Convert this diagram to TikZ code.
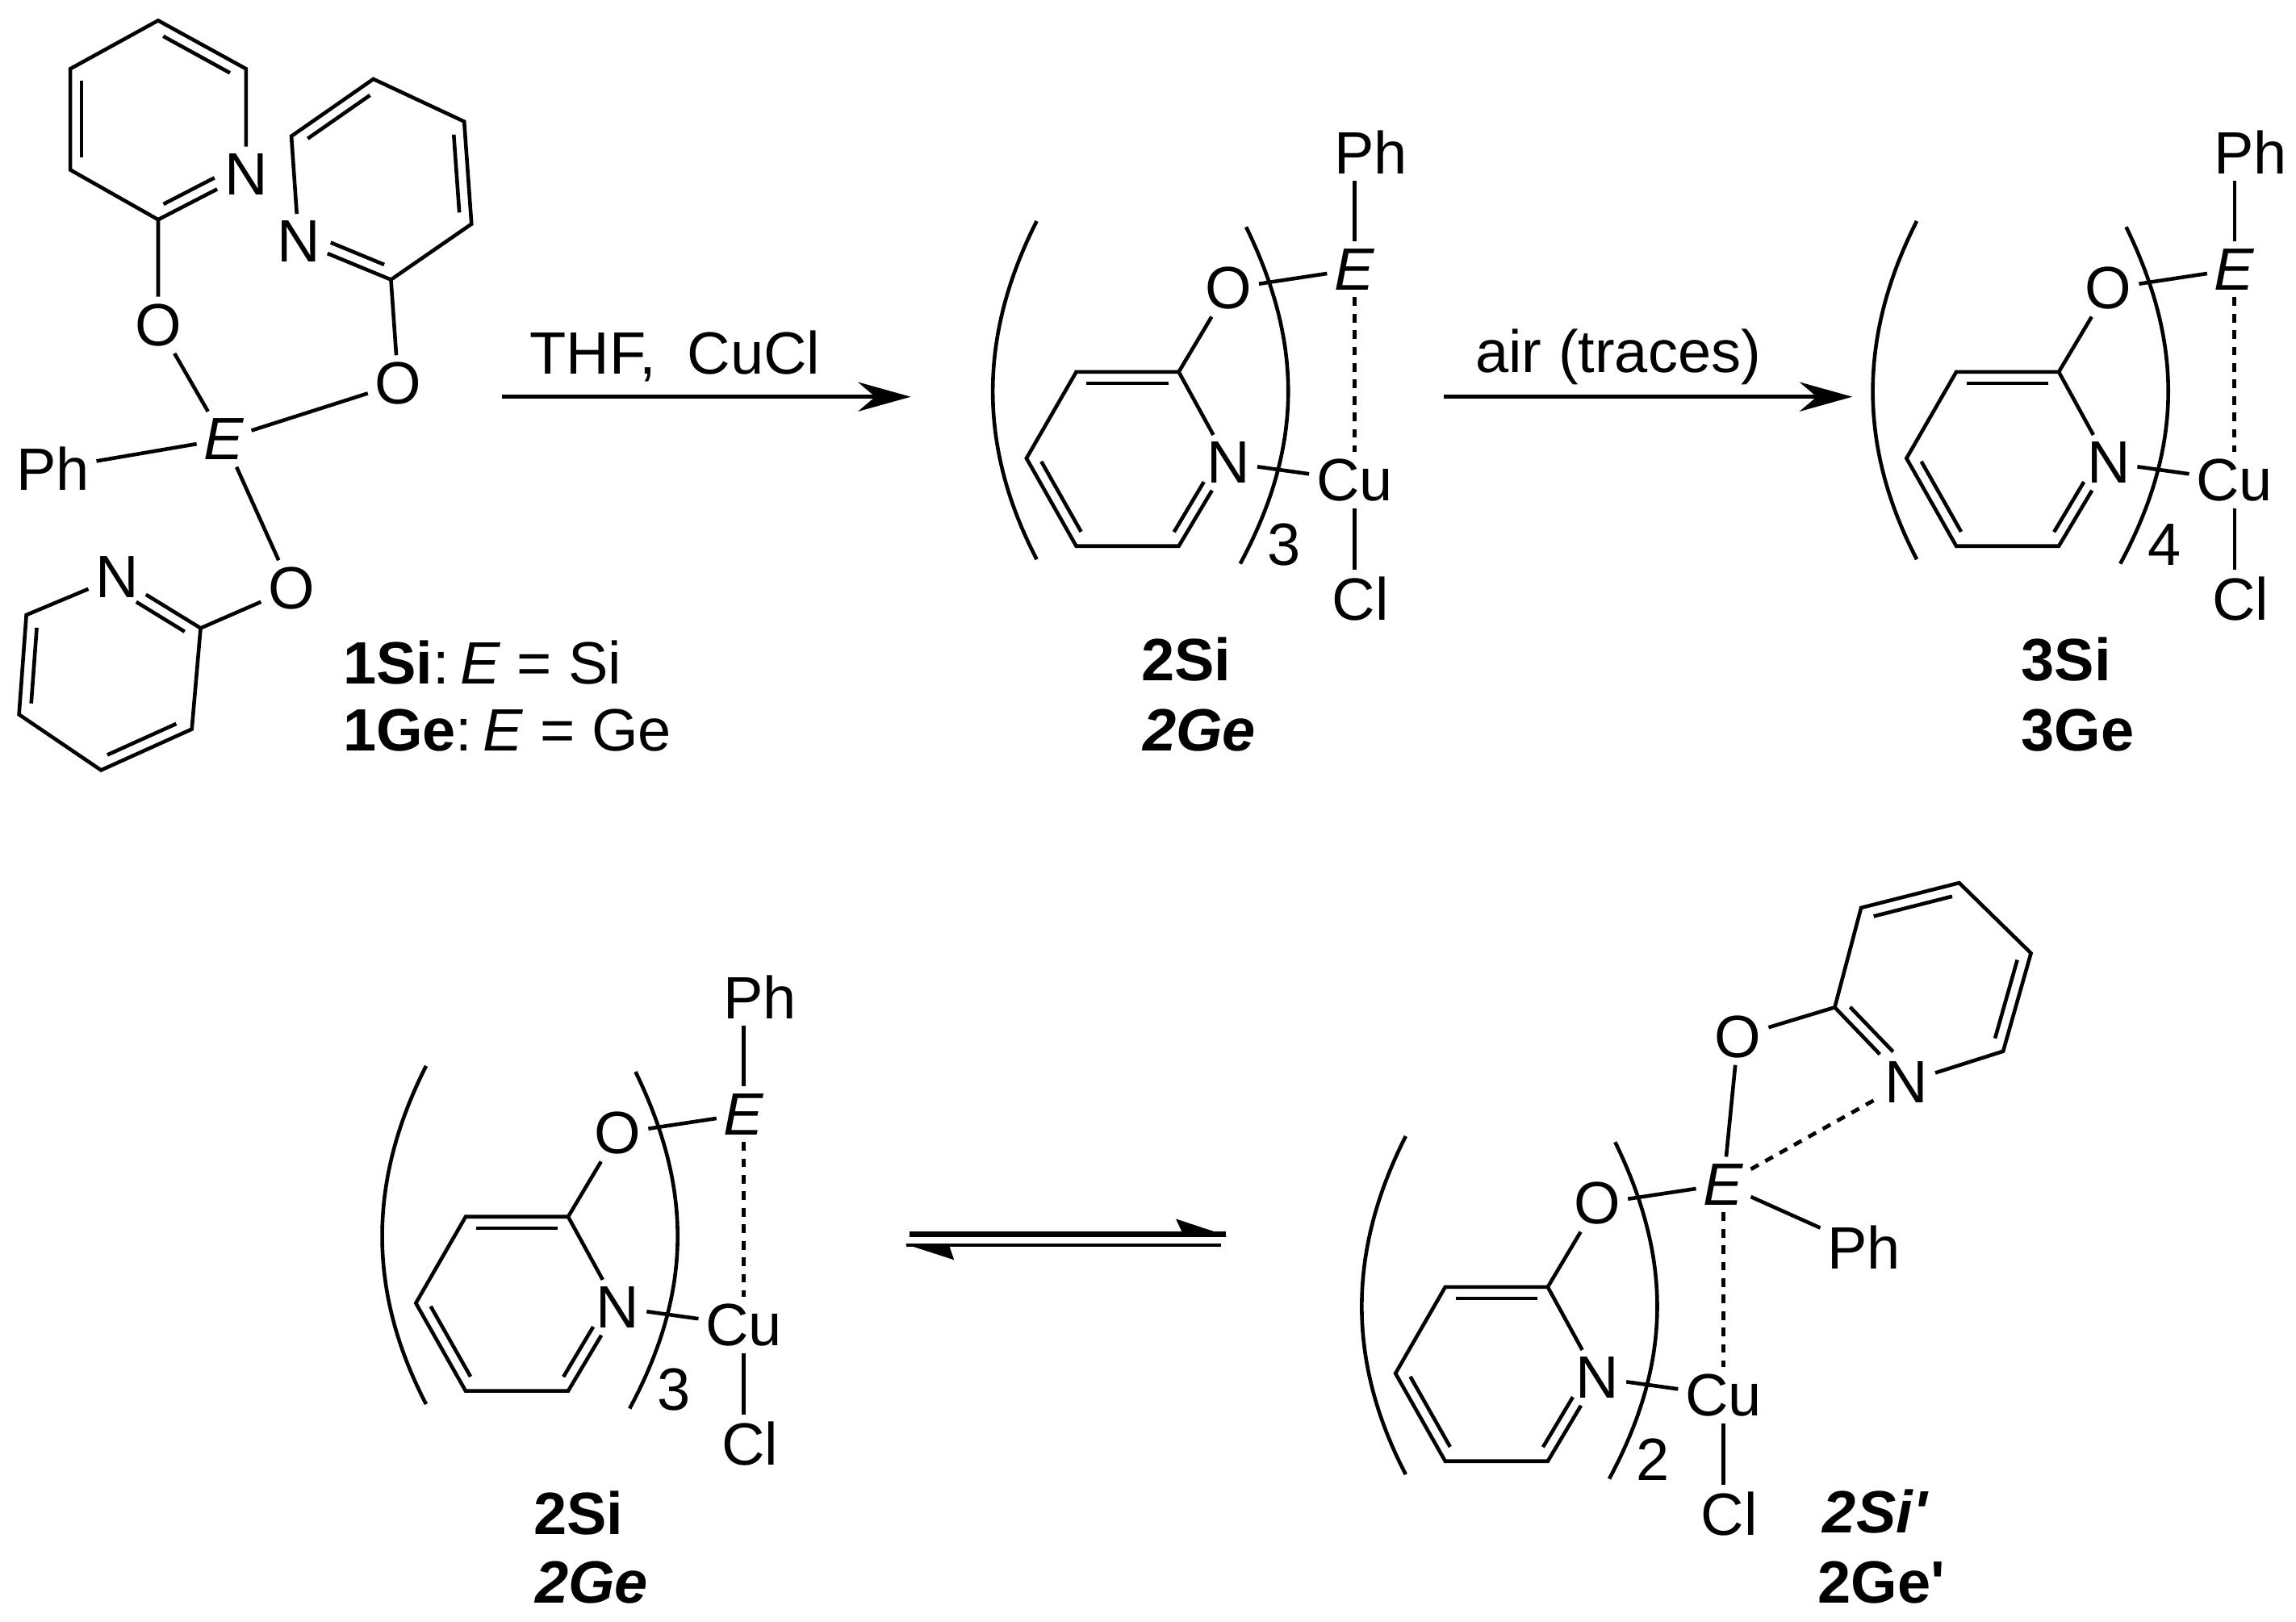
\documentclass[tikz,border=0pt]{standalone}
\usepackage{fontspec}
\setmainfont{Liberation Sans}
\usetikzlibrary{arrows.meta, calc}

\newcommand{\innerbond}[4]{\draw ($(#1)!#3!(#2)!-2.2pt!90:(#2)$) -- ($(#2)!#4!(#1)!2.2pt!90:(#1)$);}

\begin{document}
\begin{tikzpicture}[
  x=0.01cm, y=-0.01cm,
  line width=0.72pt,
  atom/.style={inner sep=1.4pt, outer sep=0pt, font=\fontsize{11.6}{13}\selectfont},
  compound/.style={inner sep=0pt, anchor=base, font=\fontsize{11.6}{13}\selectfont},
  arrow/.style={-{Stealth[length=3.6mm, width=2mm]}, line width=0.72pt},
  weak/.style={dash pattern=on 1.7pt off 1.5pt, line width=0.75pt}
]
  \useasboundingbox (0,0) rectangle (1568,1107.8);

  % Starting material
  \node[atom] (ea) at (153,300) {\textit{E}};
  \node[atom] (pha) at (36,320) {Ph};
  \node[atom] (oa) at (108,222) {O};
  \node[atom] (ob) at (272,262) {O};
  \node[atom] (oc) at (199,402) {O};
  \node[atom] (na) at (168,119) {N};
  \node[atom] (nb) at (204,165) {N};
  \node[atom] (nc) at (80,394) {N};
  \draw (pha) -- (ea);
  \draw (oa) -- (ea);
  \draw (ob) -- (ea);
  \draw (oc) -- (ea);

  % Ring on the upper left
  \coordinate (a2) at (108,150);
  \coordinate (a3) at (48,116);
  \coordinate (a4) at (48,47);
  \coordinate (a5) at (108,14);
  \coordinate (a6) at (168,47);
  \draw (oa) -- (a2) -- (a3) -- (a4) -- (a5) -- (a6) -- (na) -- (a2);
  \innerbond{a5}{a6}{.12}{.12}
  \innerbond{na}{a2}{.3}{.12}
  \innerbond{a3}{a4}{.12}{.12}

  % Ring on the upper right
  \coordinate (b2) at (267,191);
  \coordinate (b3) at (322,153);
  \coordinate (b4) at (317,83);
  \coordinate (b5) at (255,54);
  \coordinate (b6) at (199,93);
  \draw (ob) -- (b2) -- (b3) -- (b4) -- (b5) -- (b6) -- (nb) -- (b2);
  \innerbond{b2}{nb}{.12}{.3}
  \innerbond{b4}{b3}{.12}{.12}
  \innerbond{b6}{b5}{.12}{.12}

  % Ring at the bottom
  \coordinate (c2) at (137,429);
  \coordinate (c3) at (131,498);
  \coordinate (c4) at (69,526);
  \coordinate (c5) at (13,488);
  \coordinate (c6) at (18,420);
  \draw (oc) -- (c2) -- (c3) -- (c4) -- (c5) -- (c6) -- (nc) -- (c2);
  \innerbond{nc}{c2}{.3}{.12}
  \innerbond{c3}{c4}{.12}{.12}
  \innerbond{c5}{c6}{.12}{.12}

  \node[compound, anchor=base west] (silabel) at (233,467) {\textbf{1Si}:\kern-.04cm\ \textit{E} = Si};
  \node[compound, anchor=base west] (gelabel) at (233,513) {\textbf{1Ge}:\kern-.04cm\ \textit{E} = Ge};

  % Copper complexes
  \foreach \pre/\sx/\sy/\cnt in {m/0/0/3, t/601/0/4, l/-417/577/3, r/252/625/2} {
    \begin{scope}[shift={(\sx,\sy)}, name prefix=\pre-]
      \node[atom] (E) at (925,184) {\textit{E}};
      \node[atom] (O) at (839,197) {O};
      \node[atom] (N) at (839,316) {N};
      \node[atom] (Cu) at (925,328) {Cu};
      \node[atom] (Cl) at (929,409) {Cl};
      \node[atom] (cnt) at (877,372) {\cnt};
      \coordinate (r2) at (805,254);
      \coordinate (r3) at (735,254);
      \coordinate (r4) at (701,313);
      \coordinate (r5) at (735,373);
      \coordinate (r6) at (805,373);
      \draw (O) -- (E);
      \draw (N) -- (Cu);
      \draw (Cu) -- (Cl.north -| Cu);
      \draw[weak] (E) -- (Cu);
      \draw (O) -- (r2) -- (r3) -- (r4) -- (r5) -- (r6) -- (N) -- (r2);
      \innerbond{r3}{r2}{.1}{.1}
      \innerbond{N}{r6}{.3}{.1}
      \innerbond{r5}{r4}{.1}{.1}
      \draw (708,151) .. controls (668,230) and (668,305) .. (708,382);
      \draw (851,155) .. controls (890,235) and (890,305) .. (847,385);
    \end{scope}
  }

  % Phenyl groups
  \node[atom] (phm) at (936,104) {Ph};
  \node[atom] (pht) at (1537,104) {Ph};
  \node[atom] (phl) at (519,681) {Ph};
  \node[atom] (phr) at (1273,852) {Ph};
  \draw (m-E) -- (phm.south -| m-E);
  \draw (t-E) -- (pht.south -| t-E);
  \draw (l-E) -- (phl.south -| l-E);
  \draw (r-E) -- (phr);

  % Fourth ring
  \node[atom] (oe) at (1187,708) {O};
  \node[atom] (ne) at (1302,739) {N};
  \coordinate (e2) at (1253,688);
  \coordinate (e3) at (1271,620);
  \coordinate (e4) at (1338,603);
  \coordinate (e5) at (1387,651);
  \coordinate (e6) at (1368,718);
  \draw (r-E) -- (oe);
  \draw[weak] (r-E) -- (ne);
  \draw (oe) -- (e2) -- (e3) -- (e4) -- (e5) -- (e6) -- (ne) -- (e2);
  \innerbond{e3}{e4}{.1}{.1}
  \innerbond{e5}{e6}{.1}{.1}
  \innerbond{ne}{e2}{.3}{.1}

  % Compound labels
  \node[compound] (mlabel) at (810,465) {\textbf{2Si}};
  \node[compound] (mlabelb) at (819,513) {\textbf{\textit{2Ge}}};
  \node[compound] (tlabel) at (1411,465) {\textbf{3Si}};
  \node[compound] (tlabelb) at (1419,513) {\textbf{3Ge}};
  \node[compound] (llabel) at (395,1048) {\textbf{2Si}};
  \node[compound] (llabelb) at (404,1095) {\textbf{\textit{2Ge}}};
  \node[compound] (rlabel) at (1281,1047) {\textbf{\textit{2Si\textquotesingle}}};
  \node[compound] (rlabelb) at (1285,1095) {\textbf{2Ge\textquotesingle}};

  % Reaction arrows
  \coordinate (thfa) at (343,271);
  \coordinate (thfb) at (622,271);
  \coordinate (aira) at (986,271);
  \coordinate (airb) at (1265,271);
  \draw[arrow] (thfa) -- node[atom, pos=.423, above=1.5pt] (thf) {THF,\kern.1cm\ CuCl} (thfb);
  \draw[arrow] (aira) -- node[atom, pos=.427, above=1pt] (air) {air (traces)} (airb);

  % Equilibrium
  \coordinate (eqa) at (621,843);
  \coordinate (eqb) at (837,843);
  \coordinate (eqc) at (834,850.5);
  \coordinate (eqd) at (619,850.5);
  \draw[line width=1pt] (eqa) -- (eqb);
  \draw (eqc) -- (eqd);
  \fill (838,844) -- (803,832.5) -- (808,843) -- cycle;
  \fill (618,849.6) -- (651.6,860.5) -- (648,850) -- cycle;
\end{tikzpicture}
\end{document}
